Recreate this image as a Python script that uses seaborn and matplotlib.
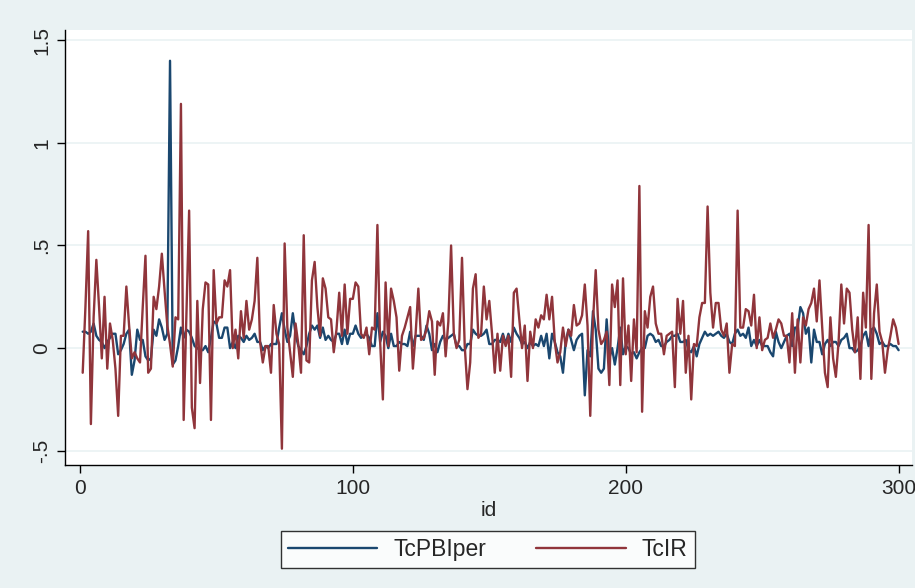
import numpy as np
import pandas as pd
import seaborn as sns
import matplotlib.pyplot as plt

# values, id = 1..300
tcir = [
    -0.12, 0.20, 0.57, -0.37, 0.15, 0.43, 0.20, -0.05, 0.25, -0.10,
    0.12, 0.04, -0.10, -0.33, 0.06, 0.06, 0.30, 0.11, -0.05, -0.02,
    -0.05, -0.07, 0.20, 0.45, -0.12, -0.10, 0.25, 0.19, 0.30, 0.46,
    0.28, 0.11, 0.02, -0.09, 0.15, 0.14, 1.19, -0.35, 0.15, 0.67,
    -0.29, -0.39, 0.23, -0.17, 0.19, 0.32, 0.31, -0.35, 0.38, 0.12,
    0.15, 0.15, 0.33, 0.30, 0.38, 0.00, 0.09, -0.05, 0.18, 0.05,
    0.23, 0.09, 0.14, 0.23, 0.44, 0.03, -0.07, 0.01, 0.01, -0.12,
    0.21, 0.07, 0.02, -0.49, 0.51, 0.10, -0.02, -0.14, 0.12, 0.02,
    -0.12, 0.55, -0.06, -0.07, 0.33, 0.42, 0.20, 0.06, 0.34, 0.29,
    0.15, 0.14, -0.02, 0.09, 0.27, 0.06, 0.31, 0.07, 0.24, 0.24,
    0.32, 0.30, 0.07, 0.05, 0.10, -0.03, 0.10, 0.09, 0.60, 0.03,
    -0.25, 0.32, 0.01, 0.29, 0.23, 0.15, -0.11, 0.06, 0.10, 0.15,
    0.20, -0.10, 0.07, 0.29, 0.04, 0.05, 0.09, 0.18, 0.13, -0.13,
    0.13, 0.11, 0.17, -0.04, 0.13, 0.50, 0.07, 0.00, 0.04, 0.44,
    0.01, -0.20, -0.07, 0.29, 0.36, 0.05, 0.07, 0.30, 0.14, 0.23,
    0.07, -0.12, 0.07, -0.11, 0.06, 0.01, 0.06, -0.14, 0.27, 0.29,
    0.14, 0.00, 0.11, -0.16, 0.08, 0.00, 0.14, 0.10, 0.16, 0.14,
    0.26, 0.14, 0.25, 0.03, -0.07, -0.02, 0.10, 0.01, 0.09, 0.06,
    0.21, 0.11, 0.12, 0.16, 0.31, 0.11, -0.33, 0.13, 0.38, 0.09,
    0.02, 0.04, 0.08, -0.18, 0.31, 0.20, 0.33, -0.18, 0.34, -0.03,
    0.11, -0.16, 0.14, -0.02, 0.79, -0.31, 0.18, 0.10, 0.25, 0.30,
    0.12, 0.07, 0.07, -0.03, 0.06, 0.07, 0.08, -0.19, 0.24, 0.07,
    0.23, -0.12, 0.06, -0.25, 0.02, 0.01, 0.15, 0.22, 0.22, 0.69,
    0.27, 0.10, 0.22, 0.22, 0.09, 0.06, 0.12, -0.12, 0.02, 0.01,
    0.67, 0.10, 0.10, 0.19, 0.18, 0.11, 0.26, 0.00, 0.15, -0.01,
    0.04, 0.05, 0.12, 0.05, 0.09, 0.14, 0.12, 0.06, 0.06, -0.07,
    0.17, -0.12, 0.14, -0.07, 0.15, 0.11, 0.19, 0.22, 0.29, 0.13,
    0.33, 0.10, -0.12, -0.19, 0.15, -0.05, -0.14, 0.03, 0.31, 0.12,
    0.29, 0.27, 0.09, -0.02, 0.15, -0.15, 0.27, 0.10, 0.60, -0.15,
    0.17, 0.31, 0.08, 0.03, -0.12, -0.01, 0.06, 0.14, 0.10, 0.02,
]

tcpbiper = [
    0.08, 0.08, 0.07, 0.08, 0.12, 0.06, 0.04, 0.03, 0.00, 0.03,
    0.05, 0.07, 0.07, -0.03, -0.01, 0.02, 0.07, 0.09, -0.13, -0.06,
    0.09, 0.04, 0.04, -0.04, -0.06, -0.05, 0.09, 0.06, 0.14, 0.10,
    0.04, 0.07, 1.40, -0.08, -0.06, 0.01, 0.10, 0.05, 0.09, 0.08,
    0.05, 0.01, 0.00, -0.01, -0.01, 0.01, -0.02, 0.05, 0.13, 0.12,
    0.05, 0.05, 0.10, 0.10, 0.00, 0.03, 0.00, 0.06, 0.05, 0.03,
    0.06, 0.04, 0.05, 0.07, 0.03, 0.03, -0.01, 0.01, 0.00, 0.02,
    0.02, 0.02, 0.10, 0.17, 0.09, 0.03, 0.06, 0.17, 0.07, 0.01,
    -0.01, -0.03, 0.01, 0.07, 0.11, 0.09, 0.11, 0.05, 0.10, 0.04,
    0.06, 0.04, 0.03, 0.07, 0.07, 0.02, 0.09, 0.02, 0.07, 0.07,
    0.11, 0.07, 0.05, 0.06, 0.07, 0.05, 0.01, 0.01, 0.17, 0.03,
    0.08, 0.06, 0.00, 0.07, 0.01, 0.01, 0.03, 0.02, 0.02, 0.01,
    0.08, 0.01, 0.06, 0.06, 0.06, 0.04, 0.11, 0.07, -0.01, 0.02,
    -0.02, 0.03, 0.06, 0.04, 0.05, 0.06, 0.07, 0.01, 0.01, -0.01,
    -0.01, 0.02, 0.02, 0.09, 0.07, 0.06, 0.06, 0.07, 0.09, 0.02,
    0.02, 0.04, 0.04, 0.03, 0.07, 0.02, 0.07, 0.03, 0.10, 0.07,
    0.05, 0.02, 0.03, 0.00, 0.03, 0.01, 0.02, 0.01, 0.06, 0.01,
    0.07, -0.05, 0.07, 0.03, -0.02, -0.04, -0.12, 0.03, 0.09, 0.04,
    -0.01, 0.04, 0.06, 0.07, -0.23, -0.01, -0.04, 0.18, 0.09, -0.10,
    -0.12, -0.10, 0.14, -0.05, 0.00, -0.08, 0.00, 0.10, -0.03, 0.01,
    0.00, -0.03, -0.02, -0.05, -0.02, 0.00, 0.00, 0.06, 0.07, 0.06,
    0.03, 0.04, 0.01, 0.01, 0.03, 0.04, 0.06, 0.06, 0.07, 0.03,
    0.03, 0.04, -0.01, -0.02, 0.01, -0.04, 0.02, 0.05, 0.08, 0.06,
    0.07, 0.06, 0.07, 0.08, 0.06, 0.05, 0.07, 0.03, 0.02, 0.07,
    0.09, 0.06, 0.07, 0.05, 0.10, 0.01, 0.04, 0.01, 0.04, 0.01,
    0.01, 0.01, -0.02, -0.04, 0.08, 0.03, 0.00, 0.03, 0.06, 0.07,
    0.01, 0.10, 0.10, 0.20, 0.17, 0.07, 0.10, -0.07, 0.09, 0.03,
    0.03, -0.03, 0.02, 0.04, 0.01, 0.03, 0.03, 0.01, 0.04, 0.05,
    0.07, 0.00, 0.00, -0.02, -0.01, 0.01, 0.06, 0.08, 0.01, 0.09,
    0.10, 0.07, 0.02, 0.03, 0.01, 0.01, 0.02, 0.01, 0.01, -0.01,
]

ids = np.arange(1, len(tcir) + 1)
series_names = ['TcPBIper', 'TcIR']
colors = ['#1a476f', '#90353b']
yticks = [-0.5, 0, 0.5, 1, 1.5]
ylabels = ['-.5', '0', '.5', '1', '1.5']
xticks = [0, 100, 200, 300]

df = pd.DataFrame({'id': np.concatenate([ids, ids]),
                   'value': tcpbiper + tcir,
                   'series': ['TcPBIper'] * len(ids) + ['TcIR'] * len(ids)})

sns.set_style('white')
plt.rcParams['font.family'] = ['Liberation Sans', 'DejaVu Sans']

bg = '#eaf2f3'
fig = plt.figure(figsize=(9.15, 5.88), dpi=100, facecolor=bg)
ax = fig.add_axes([0.071, 0.209, 0.926, 0.740])
ax.set_facecolor('white')

sns.lineplot(data=df, x='id', y='value', hue='series', hue_order=series_names,
             palette=colors, linewidth=1.7, ax=ax, legend=False)

ax.set_xlim(-5.5, 305)
ax.set_ylim(-0.57, 1.55)
ax.set_yticks(yticks)
ax.set_yticklabels(ylabels, rotation=90, va='center')
ax.set_xticks(xticks)
ax.yaxis.grid(True, color=bg, linewidth=1.2)
ax.set_axisbelow(True)
ax.tick_params(axis='both', direction='out', length=6, width=1, color='black',
               labelsize=15, pad=4, left=True, bottom=True)
ax.set_xlabel('id', fontsize=15, labelpad=2)
ax.set_ylabel('')
for s in ['top', 'right']:
    ax.spines[s].set_visible(False)
for s in ['left', 'bottom']:
    ax.spines[s].set_color('black')
    ax.spines[s].set_linewidth(1)

handles = [plt.Line2D([], [], color=c, linewidth=1.7) for c in colors]
leg = fig.legend(handles, series_names, loc='center', ncol=2,
                 bbox_to_anchor=(0.533, 0.0655), frameon=True, fancybox=False,
                 fontsize=16.5, handlelength=3.9, columnspacing=2.2,
                 borderpad=0.3, handletextpad=0.7)
leg.get_frame().set_edgecolor('black')
leg.get_frame().set_linewidth(1)
leg.get_frame().set_facecolor('white')

fig.savefig('out.png', dpi=100, facecolor=bg)
